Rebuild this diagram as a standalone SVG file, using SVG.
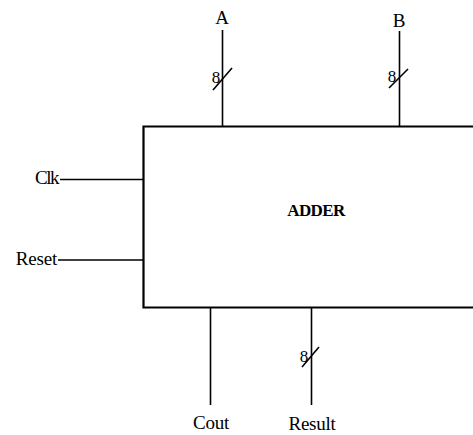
<svg xmlns="http://www.w3.org/2000/svg" width="473" height="435" viewBox="0 0 473 435">
<style>
text{font-family:"Liberation Serif","Times New Roman",serif;fill:#000}
.lbl{font-size:19px}
.bus{font-size:17px}
.wire{stroke:#000;stroke-width:1.6;fill:none}
.box{stroke:#000;stroke-width:2.2;fill:#fff}
</style>
<rect width="473" height="435" fill="#fff"/>
<g id="adder">
<path class="box" d="M480,126.5 H143.5 V307.5 H480"/>
<text x="316" y="216" text-anchor="middle" font-weight="bold" font-size="17" letter-spacing="-0.6">ADDER</text>
</g>
<g id="connectors">
<line class="wire" x1="222.5" y1="30" x2="222.5" y2="126"/>
<line class="wire" x1="213" y1="90" x2="232" y2="68"/>
<line class="wire" x1="399.5" y1="31" x2="399.5" y2="126"/>
<line class="wire" x1="389" y1="88" x2="408" y2="69"/>
<line class="wire" x1="60" y1="179.5" x2="143" y2="179.5"/>
<line class="wire" x1="58" y1="260" x2="143" y2="260"/>
<line class="wire" x1="210.5" y1="308" x2="210.5" y2="405"/>
<line class="wire" x1="311.5" y1="308" x2="311.5" y2="405"/>
<line class="wire" x1="302" y1="367" x2="319" y2="347"/>
</g>
<g id="A"><text class="lbl" x="222" y="24" text-anchor="middle">A</text><text class="bus" x="216" y="83" text-anchor="middle">8</text></g>
<g id="B"><text class="lbl" x="399" y="27" text-anchor="middle">B</text><text class="bus" x="392" y="82" text-anchor="middle">8</text></g>
<g id="Clk"><text class="lbl" x="58" y="184" text-anchor="end" letter-spacing="-1.5">Clk</text></g>
<g id="Reset"><text class="lbl" x="57" y="265" text-anchor="end" letter-spacing="-0.2">Reset</text></g>
<g id="Cout"><text class="lbl" x="211" y="429" text-anchor="middle" letter-spacing="-0.3">Cout</text></g>
<g id="Result"><text class="lbl" x="312" y="430" text-anchor="middle" letter-spacing="-0.3">Result</text><text class="bus" x="304" y="362" text-anchor="middle">8</text></g>
</svg>
